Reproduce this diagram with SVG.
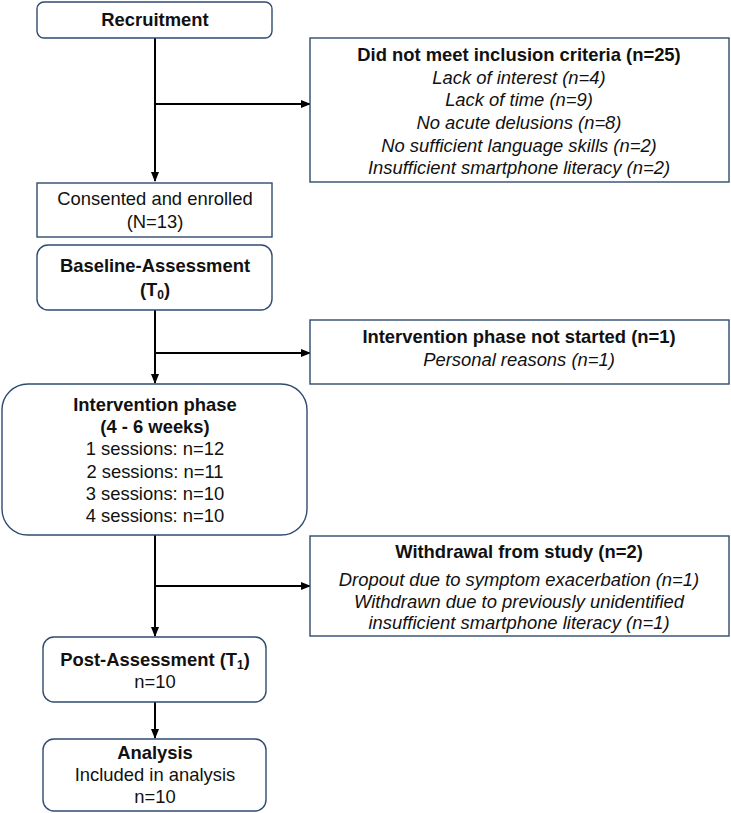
<svg xmlns="http://www.w3.org/2000/svg" width="731" height="813" viewBox="0 0 731 813">
<style>
.box{fill:#fff;stroke:#2F4B70;stroke-width:1.4}
text{font-family:"Liberation Sans",Arial,sans-serif;font-size:18.4px;fill:#111;text-anchor:middle}
.b{font-weight:bold}
.i{font-style:italic}
.c{stroke:#000;stroke-width:2;fill:none}
</style>
<defs>
<marker id="ah" markerWidth="10" markerHeight="8" refX="9" refY="4" orient="auto" markerUnits="userSpaceOnUse">
<path d="M0,0 L10,4 L0,8 z" fill="#000"/>
</marker>
</defs>
<g id="connectors">
<path class="c" d="M155,38 V181" marker-end="url(#ah)"/>
<path class="c" d="M155,104 H310" marker-end="url(#ah)"/>
<path class="c" d="M155,310 V383" marker-end="url(#ah)"/>
<path class="c" d="M155,353 H310" marker-end="url(#ah)"/>
<path class="c" d="M155,535 V636" marker-end="url(#ah)"/>
<path class="c" d="M155,586 H310" marker-end="url(#ah)"/>
<path class="c" d="M155,702 V738" marker-end="url(#ah)"/>
</g>
<g id="recruitment">
<rect class="box" x="37" y="2" width="235" height="36" rx="7"/>
<text class="b" x="155" y="26">Recruitment</text>
</g>
<g id="excluded">
<rect class="box" x="310" y="38" width="419" height="144"/>
<text class="b" x="519" y="61">Did not meet inclusion criteria (n=25)</text>
<text class="i" x="519" y="84">Lack of interest (n=4)</text>
<text class="i" x="519" y="106">Lack of time (n=9)</text>
<text class="i" x="519" y="129">No acute delusions (n=8)</text>
<text class="i" x="519" y="152">No sufficient language skills (n=2)</text>
<text class="i" x="519" y="174">Insufficient smartphone literacy (n=2)</text>
</g>
<g id="enrolled">
<rect class="box" x="37" y="183" width="235" height="54"/>
<text x="155" y="205">Consented and enrolled</text>
<text x="155" y="228">(N=13)</text>
</g>
<g id="baseline">
<rect class="box" x="37" y="245" width="235" height="65" rx="11"/>
<text class="b" x="155" y="272">Baseline-Assessment</text>
<text class="b" x="155" y="296">(T<tspan font-size="12" dy="3">0</tspan><tspan dy="-3">)</tspan></text>
</g>
<g id="notstarted">
<rect class="box" x="310" y="320" width="419" height="64"/>
<text class="b" x="519" y="343">Intervention phase not started (n=1)</text>
<text class="i" x="519" y="366">Personal reasons (n=1)</text>
</g>
<g id="intervention">
<rect class="box" x="2" y="384" width="305" height="151" rx="26"/>
<text class="b" x="155" y="411">Intervention phase</text>
<text class="b" x="155" y="433">(4 - 6 weeks)</text>
<text x="155" y="455">1 sessions: n=12</text>
<text x="155" y="478">2 sessions: n=11</text>
<text x="155" y="500">3 sessions: n=10</text>
<text x="155" y="522">4 sessions: n=10</text>
</g>
<g id="withdrawal">
<rect class="box" x="310" y="536" width="419" height="100"/>
<text class="b" x="519" y="558">Withdrawal from study (n=2)</text>
<text class="i" x="519" y="586">Dropout due to symptom exacerbation (n=1)</text>
<text class="i" x="519" y="608">Withdrawn due to previously unidentified</text>
<text class="i" x="519" y="629">insufficient smartphone literacy (n=1)</text>
</g>
<g id="post">
<rect class="box" x="43" y="637" width="223" height="65" rx="11"/>
<text class="b" x="155" y="666">Post-Assessment (T<tspan font-size="12" dy="3">1</tspan><tspan dy="-3">)</tspan></text>
<text x="155" y="688">n=10</text>
</g>
<g id="analysis">
<rect class="box" x="43" y="739" width="223" height="72" rx="11"/>
<text class="b" x="155" y="759">Analysis</text>
<text x="155" y="781">Included in analysis</text>
<text x="155" y="803">n=10</text>
</g>
</svg>
